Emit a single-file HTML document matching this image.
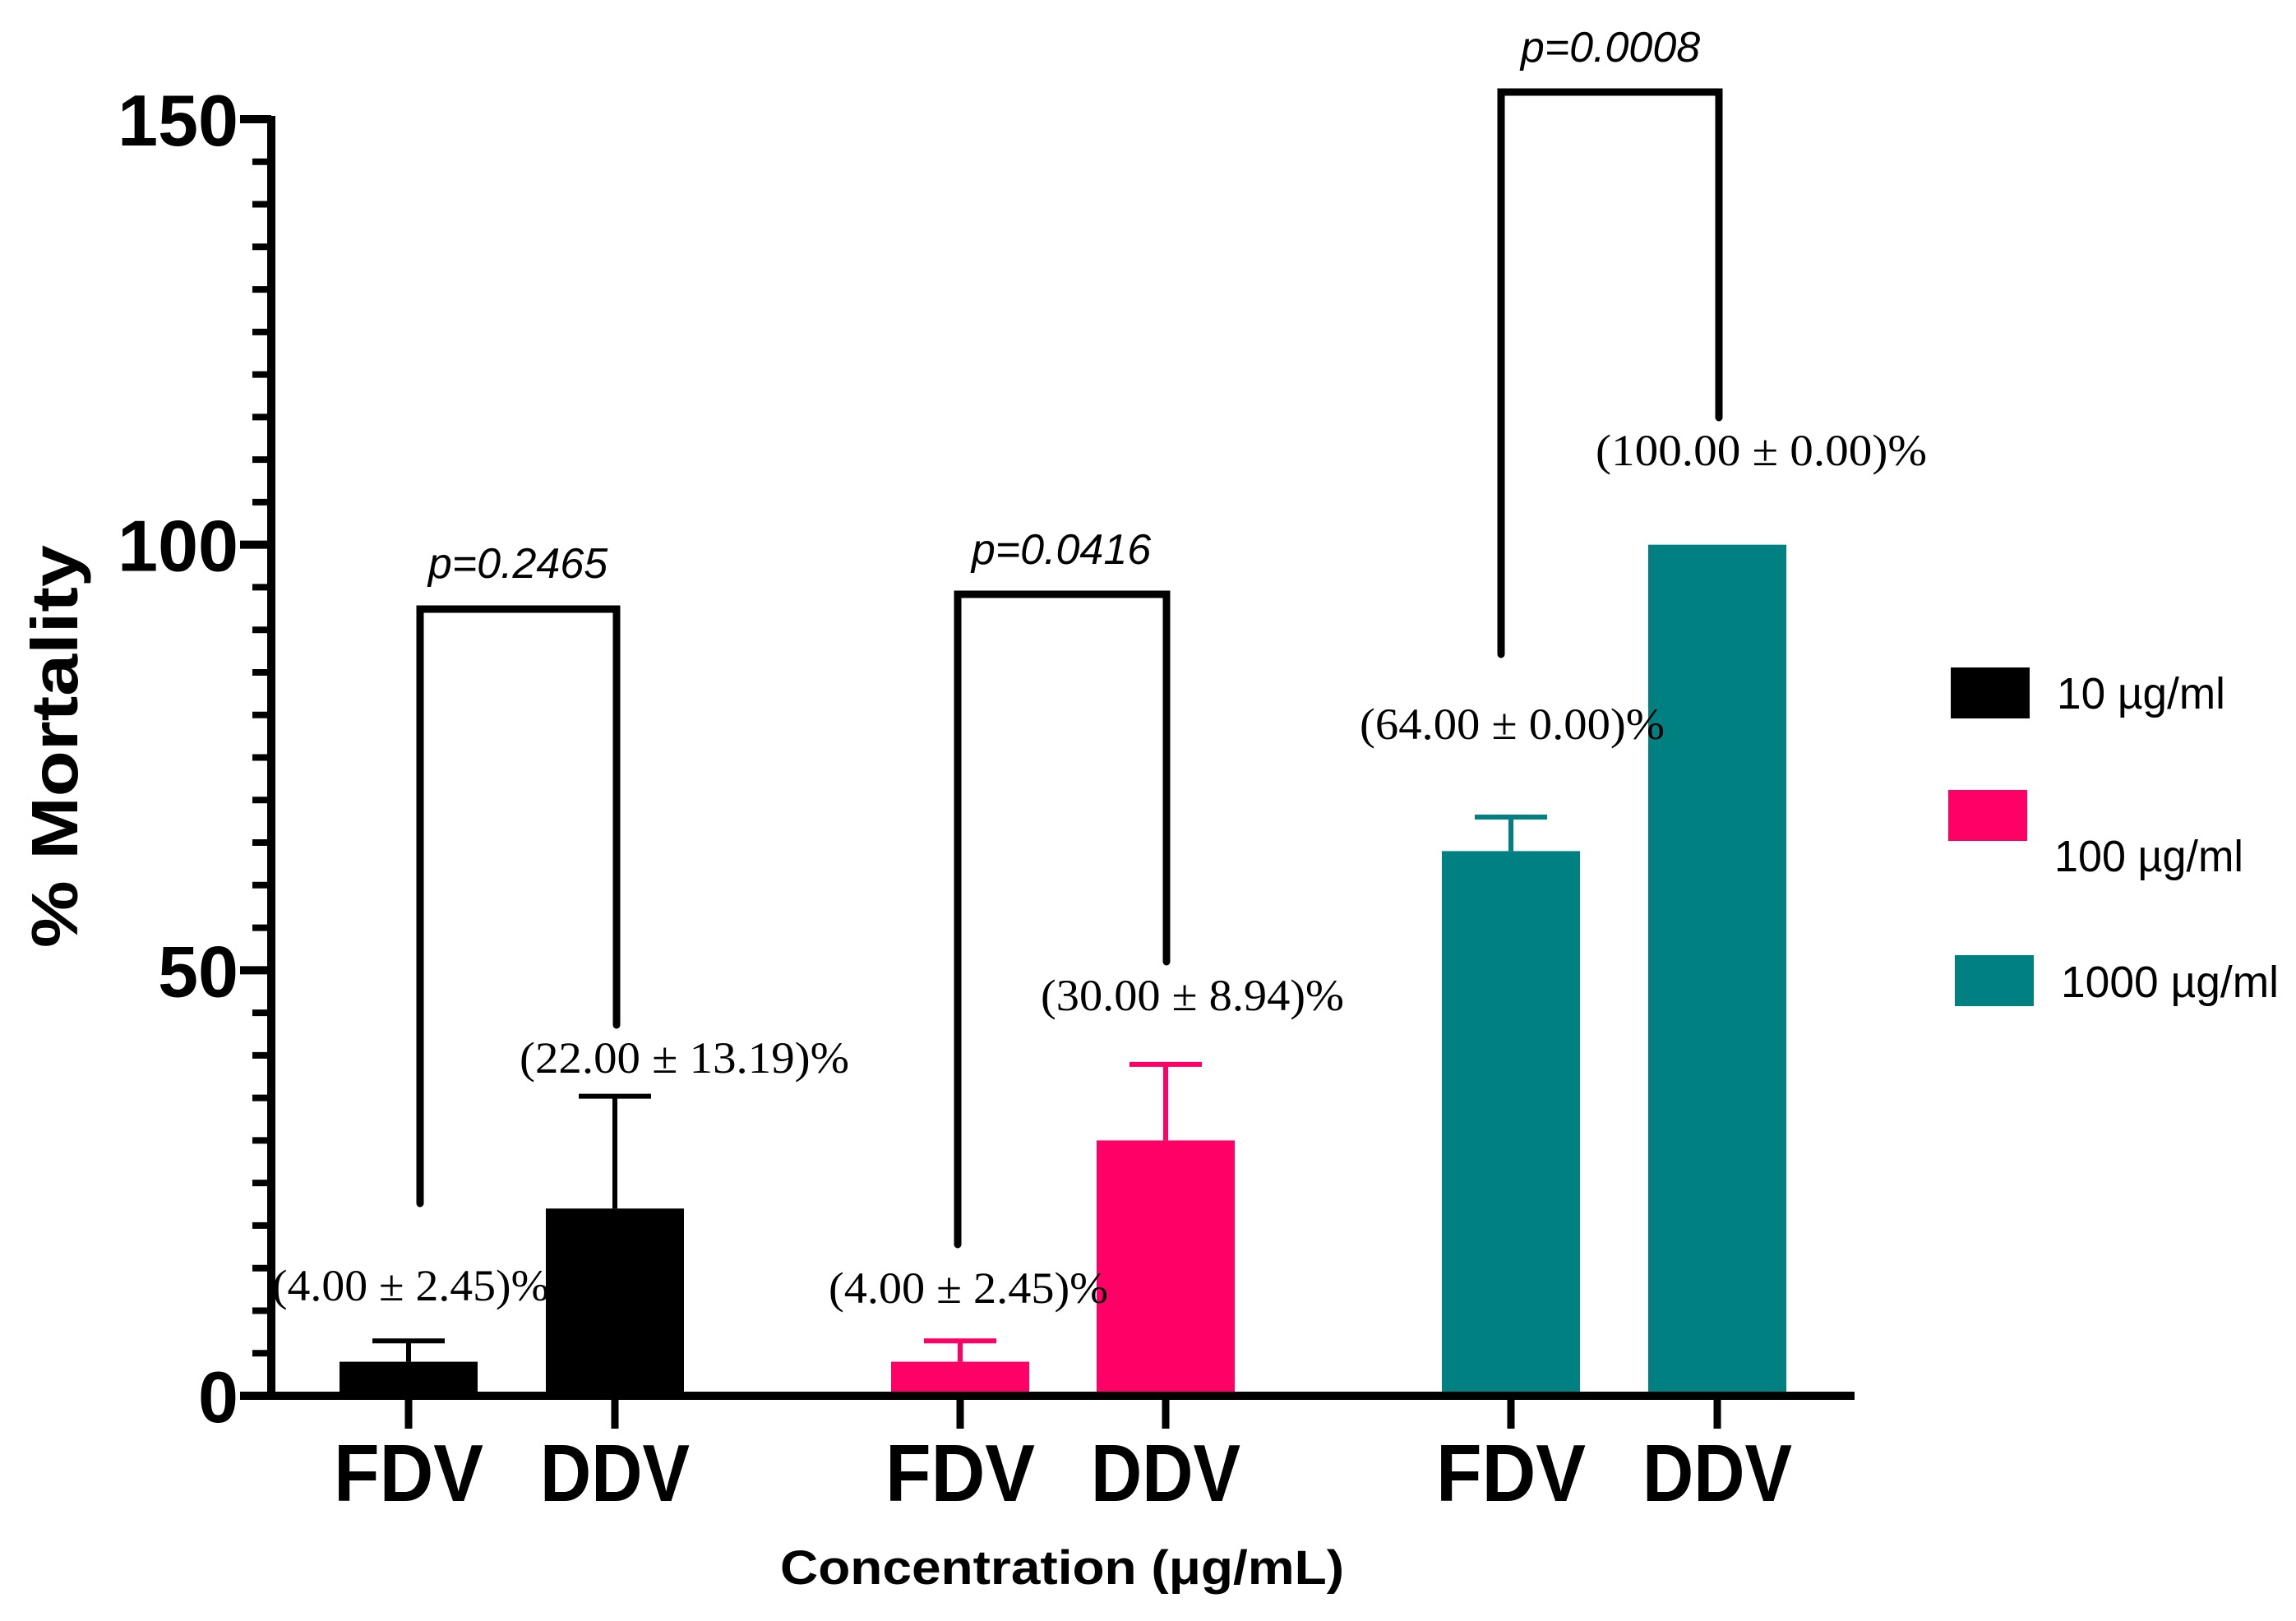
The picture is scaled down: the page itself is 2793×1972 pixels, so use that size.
<!DOCTYPE html>
<html><head><meta charset="utf-8"><style>
html,body{margin:0;padding:0;background:#fff;}
svg{display:block;}
.sans{font-family:"Liberation Sans",sans-serif;}
.serif{font-family:"Liberation Serif",serif;}
</style></head><body>
<svg id="chart" width="2793" height="1972" viewBox="0 0 2793 1972" xmlns="http://www.w3.org/2000/svg">
<rect width="2793" height="1972" fill="#fff"/>
</svg>
<script>
const categories = ["FDV","DDV","FDV","DDV","FDV","DDV"];
const values = [4, 22, 4, 30, 64, 100];
const errors = [2.45, 13.19, 2.45, 8.94, 4, 0];
const groupColors = ["#000000","#000000","#ff0066","#ff0066","#008080","#008080"];
const valueLabels = ["(4.00 \u00b1 2.45)%","(22.00 \u00b1 13.19)%","(4.00 \u00b1 2.45)%","(30.00 \u00b1 8.94)%","(64.00 \u00b1 0.00)%","(100.00 \u00b1 0.00)%"];
const yTicks = [0, 50, 100, 150];
const pLabels = ["p=0.2465","p=0.0416","p=0.0008"];
const legendLabels = ["10 \u00b5g/ml","100 \u00b5g/ml","1000 \u00b5g/ml"];
const legendColors = ["#000000","#ff0066","#008080"];

const NS="http://www.w3.org/2000/svg";
const svg=document.getElementById('chart');
function mk(tag,attrs,parent){const e=document.createElementNS(NS,tag);for(const k in attrs)e.setAttribute(k,attrs[k]);(parent||svg).appendChild(e);return e;}
const y0=1698, unit=(1698-145)/150;
function yS(v){return y0-v*unit;}
const centers=[497,748,1168,1418,1838,2089];
function xS(i){return centers[i];}
const barW=168;

// bars
categories.forEach((c,i)=>{
  const cx=xS(i);
  const r=mk('rect',{x:cx-barW/2,y:yS(values[i]),width:barW,height:y0-yS(values[i]),fill:groupColors[i]});
  
  
  if(errors[i]>0){
    const g=mk('g',{stroke:groupColors[i],'stroke-width':6,fill:'none'});
    
    
    mk('line',{x1:cx,x2:cx,y1:yS(values[i]),y2:yS(values[i]+errors[i])},g);
    mk('line',{x1:cx-44,x2:cx+44,y1:yS(values[i]+errors[i]),y2:yS(values[i]+errors[i])},g);
  }
  // x tick
  const t=mk('line',{x1:cx,x2:cx,y1:y0,y2:y0+40,stroke:'#000','stroke-width':9});
  
  
  const lab=mk('text',{x:cx,y:1826,'text-anchor':'middle','font-size':98,'font-weight':'bold',class:'sans',textLength:182,lengthAdjust:'spacingAndGlyphs'});
  lab.textContent=c;
  
  
});

// value labels
const vlPos=[[331,668,1582],[632,1033,1305],[1008,1348,1585],[1266,1635,1229],[1654,2025,899],[1941,2344,566]];
valueLabels.forEach((s,i)=>{
  const p=vlPos[i];
  const t=mk('text',{x:p[0],y:p[2],'font-size':54,class:'serif',textLength:p[1]-p[0],lengthAdjust:'spacingAndGlyphs'});
  t.textContent=s;
  
  
});

// axes
const yAxis=mk('line',{x1:330,x2:330,y1:141,y2:y0+5,stroke:'#000','stroke-width':10});


const xAxis=mk('line',{x1:292,x2:2256,y1:y0,y2:y0,stroke:'#000','stroke-width':10});


for(let v=0;v<=150;v+=5){
  const major=v%50===0;
  const t=mk('line',{x1:major?292:307,x2:330,y1:yS(v),y2:yS(v),stroke:'#000','stroke-width':major?10:8});
  
  
}
yTicks.forEach(v=>{
  const t=mk('text',{x:290,y:yS(v)+32,'text-anchor':'end','font-size':88,'font-weight':'bold',class:'sans'});
  t.textContent=v;
  
  
});

// brackets
const brackets=[[511,750,741,1464,1247,630,703],[1165,1419,723,1514,1170,1291,686],[1826,2091,112,796,508,1959,75]];
brackets.forEach((b,i)=>{
  const p=mk('path',{d:`M${b[0]},${b[3]} V${b[2]} H${b[1]} V${b[4]}`,stroke:'#000','stroke-width':9,fill:'none','stroke-linecap':'round'});
  
  
  const t=mk('text',{x:b[5],y:b[6],'text-anchor':'middle','font-size':52,'font-style':'italic',class:'sans'});
  t.textContent=pLabels[i];
  
  
});

// titles
const yt=mk('text',{x:0,y:0,'text-anchor':'middle','font-size':80,'font-weight':'bold',class:'sans',transform:'translate(94,908) rotate(-90)',textLength:490,lengthAdjust:'spacingAndGlyphs'});
yt.textContent='% Mortality';


const xt=mk('text',{x:949,y:1927,'font-size':58,'font-weight':'bold',class:'sans',textLength:686,lengthAdjust:'spacingAndGlyphs'});
xt.textContent='Concentration (\u03bcg/mL)';



// legend
const legBox=[[2373,812],[2370,961],[2378,1162]];
const legText=[[2502,862,205],[2499,1060,230],[2507,1213,265]];
legendLabels.forEach((s,i)=>{
  const r=mk('rect',{x:legBox[i][0],y:legBox[i][1],width:96,height:62,fill:legendColors[i]});
  
  
  const t=mk('text',{x:legText[i][0],y:legText[i][1],'font-size':54,class:'sans',textLength:legText[i][2],lengthAdjust:'spacingAndGlyphs'});
  t.textContent=s;
  
  
});
</script>
</body></html>
